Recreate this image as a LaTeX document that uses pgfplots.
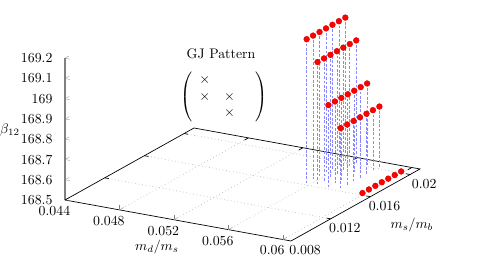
\documentclass[border=0pt]{standalone}
\usepackage{pgfplots}
\usepackage{pgfplotstable}
\pgfplotsset{compat=1.18}
\definecolor{imp}{RGB}{135,135,255}
\pgfplotstableread{
md r z
0.0557 0.01630 169.21
0.0557 0.01695 169.21
0.0557 0.01760 169.21
0.0557 0.01825 169.21
0.0557 0.01890 169.21
0.0557 0.01955 169.21
0.0557 0.02020 169.21
0.0565 0.01630 169.107
0.0565 0.01695 169.107
0.0565 0.01760 169.107
0.0565 0.01825 169.107
0.0565 0.01890 169.107
0.0565 0.01955 169.107
0.0565 0.02020 169.107
0.0573 0.01630 168.904
0.0573 0.01695 168.904
0.0573 0.01760 168.904
0.0573 0.01825 168.904
0.0573 0.01890 168.904
0.0573 0.01955 168.904
0.0573 0.02020 168.904
0.0582 0.01630 168.801
0.0582 0.01695 168.801
0.0582 0.01760 168.801
0.0582 0.01825 168.801
0.0582 0.01890 168.801
0.0582 0.01955 168.801
0.0582 0.02020 168.801
0.0598 0.01630 168.50
0.0598 0.01695 168.50
0.0598 0.01760 168.50
0.0598 0.01825 168.50
0.0598 0.01890 168.50
0.0598 0.01955 168.50
0.0598 0.02020 168.50
}\datatable
\begin{document}
\begin{tikzpicture}
\begin{axis}[
  x={(9802bp,-1778bp)}, y={(7145bp,3988bp)}, z={(0bp,145.75bp)},
  xmin=0.044, xmax=0.0606, ymin=0.008, ymax=0.021, zmin=168.5, zmax=169.2,
  axis lines*=left, axis y line=none,
  clip=false, scaled ticks=false,
  major tick length=3.5bp,
  xtick={0.044,0.048,0.052,0.056,0.06},
  xticklabels={0.044,0.048,0.052,0.056,0.06},
  xticklabel style={anchor=center, xshift=-7.6bp, yshift=-7.9bp},
  ytick=\empty,
  ztick={168.5,168.6,168.7,168.8,168.9,169,169.1,169.2},
  zticklabels={168.5,168.6,168.7,168.8,168.9,169,169.1,169.2},
  zticklabel style={anchor=east, xshift=-5.5bp},
  z axis line style={gray, line width=0.8pt},
  x axis line style={black, line width=0.5pt},
  xlabel={$m_d/m_s$}, zlabel={$\beta_{12}$},
  every axis x label/.style={at={(axis cs:0.044,0.008,168.5)}, anchor=center, xshift=66.2bp, yshift=-33.8bp},
  every axis z label/.style={at={(axis cs:0.044,0.008,168.5)}, anchor=center, xshift=-39.6bp, yshift=50.4bp},
]
\coordinate (O) at (axis cs:0.044,0.008,168.5);
% floor grid
\foreach \gx in {0.048,0.052,0.056,0.06}{
  \edef\tmp{\noexpand\draw[gray!55, dotted, line width=0.5pt] (axis cs:\gx,0.008,168.5) -- (axis cs:\gx,0.021,168.5);}\tmp
}
\foreach \gy in {0.012,0.016,0.02}{
  \edef\tmp{\noexpand\draw[gray!55, dotted, line width=0.5pt] (axis cs:0.044,\gy,168.5) -- (axis cs:0.0606,\gy,168.5);}\tmp
}
% back, left and right edges of the floor
\draw[black, line width=0.5pt] (axis cs:0.044,0.008,168.5) -- (axis cs:0.044,0.021,168.5) -- (axis cs:0.0606,0.021,168.5) -- (axis cs:0.0606,0.008,168.5);
% mirror ticks on back edge and ticks on the ms/mb axis
\foreach \gx in {0.048,0.052,0.056,0.06}{
  \edef\tmp{\noexpand\draw[black, line width=0.5pt] (axis cs:\gx,0.021,168.5) -- (axis cs:\gx,0.0206,168.5);}\tmp
}
\foreach \gy in {0.012,0.016,0.02}{
  \edef\tmp{\noexpand\draw[black, line width=0.5pt] (axis cs:0.044,\gy,168.5) -- (axis cs:0.0443,\gy,168.5);
  \noexpand\draw[black, line width=0.5pt] (axis cs:0.0606,\gy,168.5) -- (axis cs:0.0603,\gy,168.5);}\tmp
}
\node at (axis cs:0.0606,0.008,168.5) [anchor=center, xshift=10.2bp, yshift=-6.8bp] {$0.008$};
\node at (axis cs:0.0606,0.012,168.5) [anchor=center, xshift=10.2bp, yshift=-6.8bp] {$0.012$};
\node at (axis cs:0.0606,0.016,168.5) [anchor=center, xshift=10.2bp, yshift=-6.8bp] {$0.016$};
\node at (axis cs:0.0606,0.020,168.5) [anchor=center, xshift=10.2bp, yshift=-6.8bp] {$0.02$};
\node at (axis cs:0.044,0.008,168.5) [anchor=center, xshift=249.8bp, yshift=-18bp] {$m_s/m_b$};
% impulses and points
\addplot3[color=imp, quiver={u=0,v=0,w={168.5-\thisrow{z}}, every arrow/.append style={draw=imp}}, dash pattern=on 2pt off 1.2pt, line width=0.45pt, mark=none] table[x=md,y=r,z=z] {\datatable};
\addplot3[only marks, mark=*, mark size=2.1pt, color=red, mark options={fill=red, draw=red!85!black, line width=0.3pt}] table[x=md,y=r,z=z] {\datatable};
\node at (axis cs:0.044,0.008,168.5) [inner sep=0.5pt, xshift=112.3bp, yshift=105.2bp] {GJ Pattern};
\node at (axis cs:0.044,0.008,168.5) [inner sep=0pt, xshift=114.5bp, yshift=74.3bp] {$\left(\begin{array}{ccc} \times & & \\ \times & \times & \\ & \times & \end{array}\right)$};
\end{axis}
\pgfresetboundingbox
\path[use as bounding box] (O) ++(-46.8bp,-55.44bp) rectangle ++(359.28bp,199.44bp);
\end{tikzpicture}
\end{document}
